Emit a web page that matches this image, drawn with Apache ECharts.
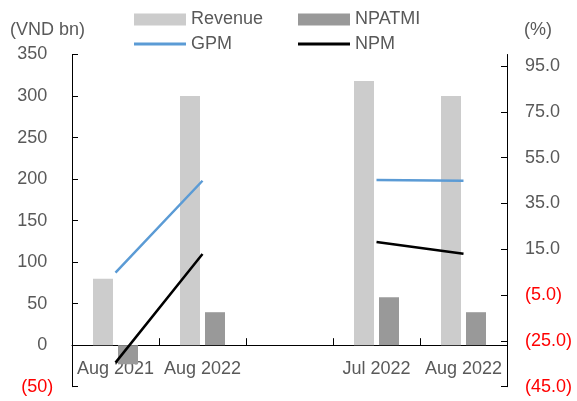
<!DOCTYPE html>
<html>
<head>
<meta charset="utf-8">
<script src="https://cdn.jsdelivr.net/npm/echarts@6/dist/echarts.min.js"></script>
<style>
html,body{margin:0;padding:0;background:#fff;}
#c{width:577px;height:401px;}
</style>
</head>
<body>
<div id="c"></div>
<script>
var categories = ['Aug 2021', 'Aug 2022', '', 'Jul 2022', 'Aug 2022'];
var revenue = [80, 300, null, 318, 300];
var npatmi = [-23, 39.7, null, 57.7, 39.7];
var gpm = [4.8, 44.9, null, 45.2, 44.9];
var npm = [-34.5, 12.9, null, 18.2, 13.0];
var rightTicks = [-45, -25, -5, 15, 35, 55, 75, 95];

var FONT = '"Liberation Sans", Arial, sans-serif';
var GREY = '#595959';
var chart = echarts.init(document.getElementById('c'), null, {renderer: 'canvas'});

function legendItem(name, left, top, isLine) {
  return {
    data: [name], left: left, top: top, padding: 0,
    icon: 'rect', itemWidth: 52, itemHeight: isLine ? 3 : 12, itemGap: 0,
    textStyle: {fontFamily: FONT, fontSize: 18, color: GREY},
    selectedMode: false
  };
}

// grid bottom edge placed at zero line of the left axis (min -50, max 350)
var GT = 54.5, GB = 386.7;
var zeroY = GB - (GB - GT) * 50 / 400;

var option = {
  animation: false,
  backgroundColor: '#fff',
  legend: [
    legendItem('Revenue', 134, 10.5, false),
    legendItem('NPATMI', 298, 10.5, false),
    legendItem('GPM', 134, 35, true),
    legendItem('NPM', 298, 35, true)
  ],
  graphic: [
    {type: 'text', left: 10, top: 21, style: {text: '(VND bn)', font: '18px ' + FONT, fill: GREY}},
    {type: 'text', left: 524, top: 21, style: {text: '(%)', font: '18px ' + FONT, fill: GREY}}
  ],
  grid: [
    {left: 72, right: 70, top: GT, height: GB - GT, containLabel: false, outerBoundsMode: 'none'},
    {left: 72, right: 70, top: GT, height: zeroY - GT, containLabel: false, outerBoundsMode: 'none'}
  ],
  xAxis: [
    {
      type: 'category', gridIndex: 0, data: categories, boundaryGap: true,
      axisLine: {show: false}, axisTick: {show: false}, axisLabel: {show: false}, splitLine: {show: false}
    },
    {
      type: 'category', gridIndex: 1, data: categories, boundaryGap: true, position: 'bottom',
      axisLine: {show: true, onZero: false, lineStyle: {color: '#000', width: 1}},
      axisTick: {show: true, inside: true, length: 7, alignWithLabel: false, interval: 0, lineStyle: {color: '#000'}},
      axisLabel: {interval: 0, margin: 15, fontFamily: FONT, fontSize: 18, color: GREY},
      splitLine: {show: false}
    }
  ],
  yAxis: [
    {
      type: 'value', gridIndex: 0, position: 'left', min: -50, max: 350, interval: 50,
      axisLine: {show: true, onZero: false, lineStyle: {color: '#000', width: 1}},
      axisTick: {show: true, inside: true, length: 6, lineStyle: {color: '#000'}},
      splitLine: {show: false},
      axisLabel: {
        margin: 18.7,
        formatter: function (v) {
          return v < 0 ? '{r|(' + Math.abs(v) + ')}' : '{p|' + v + '}';
        },
        rich: {
          r: {fontFamily: FONT, fontSize: 18, color: '#ff0000'},
          p: {fontFamily: FONT, fontSize: 18, color: GREY, padding: [0, 6, 0, 0]}
        }
      }
    },
    {
      type: 'value', gridIndex: 0, position: 'right', min: -45, max: 100,
      axisLine: {show: true, onZero: false, lineStyle: {color: '#000', width: 1}},
      axisTick: {show: true, inside: true, length: 6, customValues: rightTicks, lineStyle: {color: '#000'}},
      splitLine: {show: false},
      axisLabel: {
        margin: 18,
        customValues: rightTicks,
        formatter: function (v) {
          return v < 0 ? '{r|(' + Math.abs(v).toFixed(1) + ')}' : '{p|' + v.toFixed(1) + '}';
        },
        rich: {
          r: {fontFamily: FONT, fontSize: 18, color: '#ff0000'},
          p: {fontFamily: FONT, fontSize: 18, color: GREY}
        }
      }
    },
    {
      type: 'value', gridIndex: 1, min: 0, max: 1, show: false
    }
  ],
  series: [
    {name: 'Revenue', type: 'bar', xAxisIndex: 0, yAxisIndex: 0, data: revenue, barWidth: 20, barGap: '25%', color: '#cccccc', itemStyle: {color: '#cccccc'}},
    {name: 'NPATMI', type: 'bar', xAxisIndex: 0, yAxisIndex: 0, data: npatmi, barWidth: 20, barGap: '25%', color: '#999999', itemStyle: {color: '#999999'}},
    {name: 'GPM', type: 'line', xAxisIndex: 0, yAxisIndex: 1, data: gpm, symbol: 'none', connectNulls: false, color: '#5b9bd5', lineStyle: {color: '#5b9bd5', width: 2.5}, z: 5},
    {name: 'NPM', type: 'line', xAxisIndex: 0, yAxisIndex: 1, data: npm, symbol: 'none', connectNulls: false, color: '#000000', lineStyle: {color: '#000000', width: 2.5}, z: 5}
  ]
};
chart.setOption(option);
</script>
</body>
</html>
